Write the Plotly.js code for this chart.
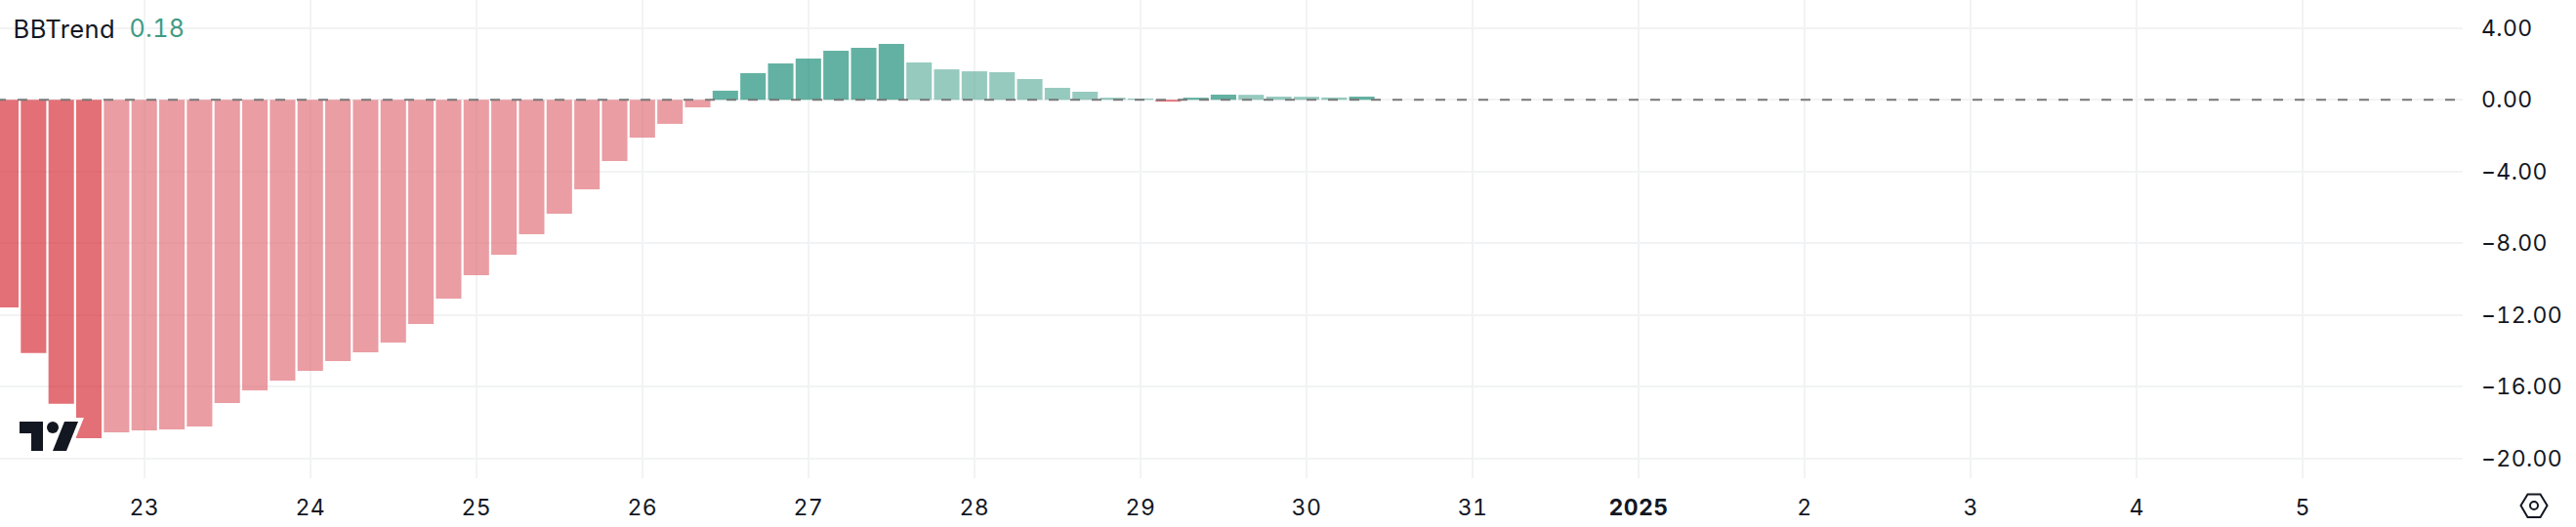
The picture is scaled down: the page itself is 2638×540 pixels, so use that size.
<!DOCTYPE html>
<html>
<head>
<meta charset="utf-8">
<script src="https://cdn.plot.ly/plotly-3.0.1.min.js"></script>
<style>
html,body{margin:0;padding:0;background:#fff;width:2638px;height:540px;overflow:hidden}
#chart{position:absolute;left:0;top:0;width:2638px;height:540px}
#overlay{position:absolute;left:0;top:0;pointer-events:none}
#chart text{font-variant-numeric:tabular-nums;font-feature-settings:"tnum" 1;letter-spacing:0.4px}
</style>
</head>
<body>
<div id="chart"></div>
<svg id="overlay" width="2638" height="540" viewBox="0 0 2638 540">
  <g>
    <path d="M20 432H44V462H32V444H20Z" fill="#131722" stroke="#fff" stroke-width="6" stroke-linejoin="miter"/>
    <path d="M66 432H80L68 462H54Z" fill="#131722" stroke="#fff" stroke-width="8" stroke-linejoin="miter"/>
    <path d="M20 432H44V462H32V444H20Z" fill="#131722"/>
    <circle cx="54" cy="438" r="6" fill="#131722"/>
    <path d="M66 432H80L68 462H54Z" fill="#131722"/>
  </g>
  <g fill="none" stroke="#131722" stroke-width="2">
    <path d="M2581.5 518L2588.5 506.5H2601.5L2608.5 518L2601.5 530H2588.5Z"/>
    <circle cx="2595" cy="518" r="4"/>
  </g>
</svg>
<script>
const barTimes = [
 "2024-12-22 04:00","2024-12-22 08:00","2024-12-22 12:00","2024-12-22 16:00","2024-12-22 20:00",
 "2024-12-23 00:00","2024-12-23 04:00","2024-12-23 08:00","2024-12-23 12:00","2024-12-23 16:00","2024-12-23 20:00",
 "2024-12-24 00:00","2024-12-24 04:00","2024-12-24 08:00","2024-12-24 12:00","2024-12-24 16:00","2024-12-24 20:00",
 "2024-12-25 00:00","2024-12-25 04:00","2024-12-25 08:00","2024-12-25 12:00","2024-12-25 16:00","2024-12-25 20:00",
 "2024-12-26 00:00","2024-12-26 04:00","2024-12-26 08:00","2024-12-26 12:00","2024-12-26 16:00","2024-12-26 20:00",
 "2024-12-27 00:00","2024-12-27 04:00","2024-12-27 08:00","2024-12-27 12:00","2024-12-27 16:00","2024-12-27 20:00",
 "2024-12-28 00:00","2024-12-28 04:00","2024-12-28 08:00","2024-12-28 12:00","2024-12-28 16:00","2024-12-28 20:00",
 "2024-12-29 00:00","2024-12-29 04:00","2024-12-29 08:00","2024-12-29 12:00","2024-12-29 16:00","2024-12-29 20:00",
 "2024-12-30 00:00","2024-12-30 04:00","2024-12-30 08:00"
];
const bbTrend = [
 -11.58,-14.12,-16.95,-18.87,-18.54,
 -18.43,-18.38,-18.21,-16.91,-16.20,-15.66,
 -15.11,-14.57,-14.08,-13.53,-12.50,-11.09,
 -9.78,-8.64,-7.49,-6.35,-4.99,-3.41,
 -2.11,-1.34,-0.42,0.51,1.49,2.03,
 2.30,2.74,2.90,3.12,2.08,1.70,
 1.59,1.54,1.16,0.67,0.45,0.12,
 0.07,-0.10,0.12,0.29,0.28,0.18,
 0.17,0.13,0.18
];
const xTickDates = ["2024-12-23","2024-12-24","2024-12-25","2024-12-26","2024-12-27","2024-12-28","2024-12-29","2024-12-30","2024-12-31","2025-01-01","2025-01-02","2025-01-03","2025-01-04","2025-01-05"];
const xTickLabels = ["23","24","25","26","27","28","29","30","31","<b>2025</b>","2","3","4","5"];
const yTickValues = [4,0,-4,-8,-12,-16,-20];
const yTickLabels = ["4.00","0.00","\u22124.00","\u22128.00","\u221212.00","\u221216.00","\u221220.00"];
const indicatorName = "BBTrend";
const indicatorValue = "0.18";

const GREEN_STRONG = "rgba(15,135,112,0.65)";
const GREEN_SOFT   = "rgba(94,174,157,0.65)";
const RED_STRONG   = "rgba(212,35,45,0.65)";
const RED_SOFT     = "rgba(222,105,114,0.65)";
const barColors = bbTrend.map((v,i)=>{
  const prev = i ? bbTrend[i-1] : (v<0 ? 0 : -Infinity);
  if (v >= 0) return v >= prev ? GREEN_STRONG : GREEN_SOFT;
  return v <= prev ? RED_STRONG : RED_SOFT;
});

const FONT = "Inter, 'Liberation Sans', sans-serif";
const INK = "#131722";
const GRID = "#f2f3f4";

const W = 2638, H = 540, R = 116, B = 50;
const px = x => x/(W-R);
const py = y => 1 - y/(H-B);

Plotly.newPlot("chart",[{
  type:"bar",
  x:barTimes,
  y:bbTrend,
  marker:{color:barColors,line:{width:0}},
  hoverinfo:"skip"
}],{
  width:W,height:H,
  margin:{l:0,r:R,t:0,b:B,pad:0},
  paper_bgcolor:"#fff",plot_bgcolor:"#fff",
  bargap:0.08,
  showlegend:false,
  font:{family:FONT,color:INK,size:22},
  xaxis:{
    type:"date",
    range:["2024-12-22 03:09","2025-01-05 23:08"],
    tickmode:"array",tickvals:xTickDates,ticktext:xTickLabels,
    tickangle:0,
    showgrid:true,gridcolor:GRID,gridwidth:2,
    zeroline:false,showline:false,ticks:"",
    tickfont:{family:FONT,size:23,color:INK},
    ticklabelstandoff:14
  },
  yaxis:{
    side:"right",
    range:[-21.1,5.567],
    tickmode:"array",tickvals:yTickValues,ticktext:yTickLabels,
    showgrid:true,gridcolor:GRID,gridwidth:2,
    zeroline:false,showline:false,ticks:"",
    tickfont:{family:FONT,size:23,color:INK},
    ticklabelstandoff:18
  },
  shapes:[{
    type:"line",xref:"paper",yref:"y",
    x0:px(-4),x1:1,y0:0,y1:0,
    line:{color:"#787878",width:2,dash:"10px,12px"},
    layer:"above"
  }],
  annotations:[
    {xref:"paper",yref:"paper",x:px(13),y:py(29),xanchor:"left",yanchor:"middle",showarrow:false,
     text:indicatorName,font:{family:FONT,size:25.5,color:INK}},
    {xref:"paper",yref:"paper",x:px(136),y:py(29),xanchor:"left",yanchor:"middle",showarrow:false,
     text:indicatorValue,font:{family:FONT,size:25,color:"#419b82"}}
  ]
},{staticPlot:true,displayModeBar:false});
</script>
</body>
</html>
